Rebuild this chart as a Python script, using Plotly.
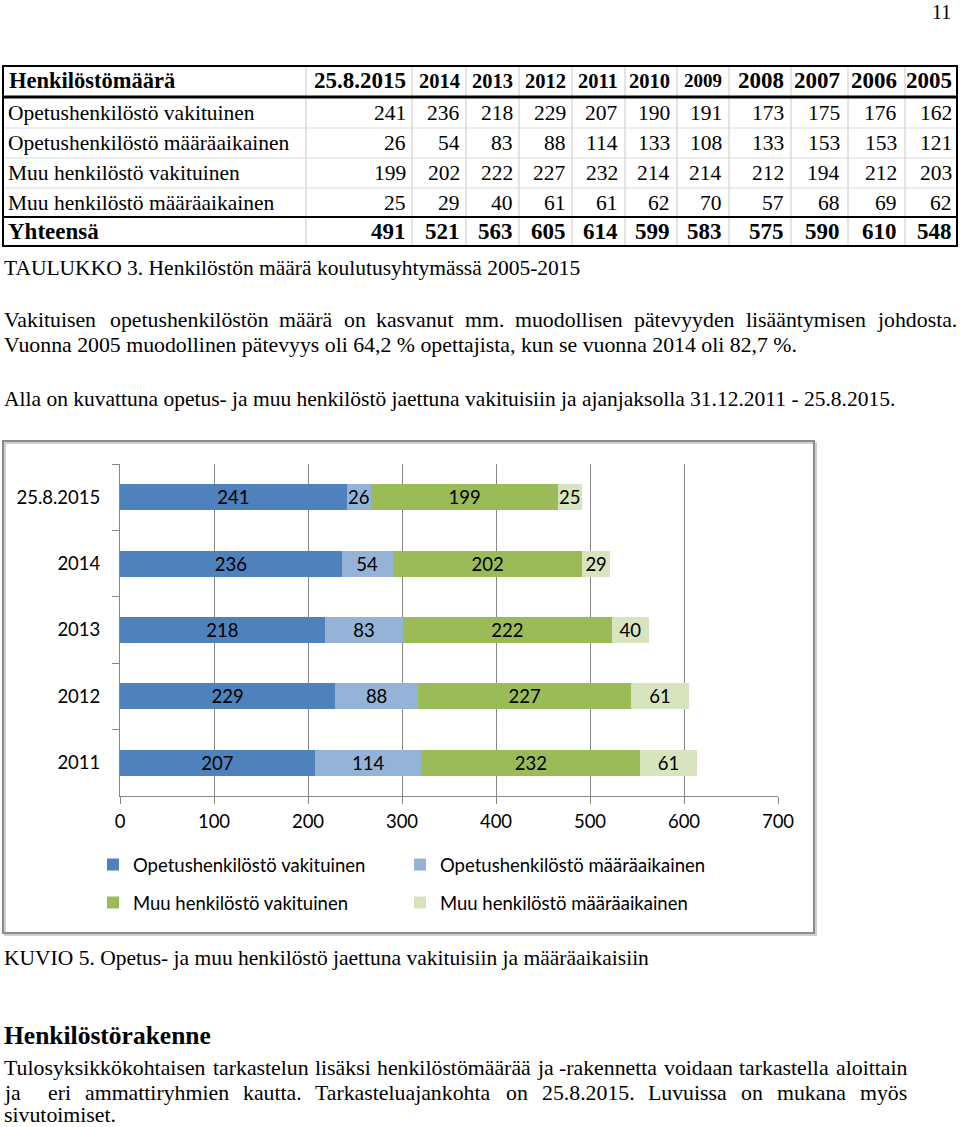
import plotly.graph_objects as go

# ---------------- data ----------------
table_cols = ["25.8.2015", "2014", "2013", "2012", "2011", "2010", "2009", "2008", "2007", "2006", "2005"]
row_labels = ["Opetushenkilöstö vakituinen", "Opetushenkilöstö määräaikainen",
              "Muu henkilöstö vakituinen", "Muu henkilöstö määräaikainen"]
opetus_vakituinen = [241, 236, 218, 229, 207, 190, 191, 173, 175, 176, 162]
opetus_maaraaikainen = [26, 54, 83, 88, 114, 133, 108, 133, 153, 153, 121]
muu_vakituinen = [199, 202, 222, 227, 232, 214, 214, 212, 194, 212, 203]
muu_maaraaikainen = [25, 29, 40, 61, 61, 62, 70, 57, 68, 69, 62]
yhteensa = [491, 521, 563, 605, 614, 599, 583, 575, 590, 610, 548]

chart_categories = table_cols[:5]
series_names = row_labels
series_values = [opetus_vakituinen[:5], opetus_maaraaikainen[:5], muu_vakituinen[:5], muu_maaraaikainen[:5]]
x_ticks = [0, 100, 200, 300, 400, 500, 600, 700]

# ---------------- styles / layout ----------------
W, H = 960, 1127
SERIF = "Liberation Serif"
SANS = "Lato"
CH_SIZE = 18.5
colors = ["#4F81BD", "#95B3D7", "#9BBB59", "#D7E4BD"]


def px(x):
    return x / W


def py(y):
    return 1 - y / H


fig = go.Figure()
for i, (name, vals) in enumerate(zip(series_names, series_values)):
    fig.add_trace(go.Bar(
        y=chart_categories, x=vals, name=name, orientation="h",
        marker=dict(color=colors[i], line=dict(width=0)),
        text=vals, textposition="inside", insidetextanchor="middle",
        constraintext="none", textangle=0,
        textfont=dict(family=SANS, size=CH_SIZE, color="#000000"),
        legend="legend" if i < 2 else "legend2",
        hoverinfo="skip",
    ))

annotations = []
shapes = []


def add_text(x, y, text, size, bold=False, anchor="left", family=SERIF, color="#000"):
    if bold:
        text = "<b>" + text + "</b>"
    annotations.append(dict(
        x=px(x), y=py(y), xref="paper", yref="paper", text=text, showarrow=False,
        xanchor=anchor, yanchor="middle", font=dict(family=family, size=size, color=color),
        borderpad=0,
    ))


TIMES = {
    'a': 444, 'b': 500, 'c': 444, 'd': 500, 'e': 444, 'f': 333, 'g': 500, 'h': 500, 'i': 278,
    'j': 278, 'k': 500, 'l': 278, 'm': 778, 'n': 500, 'o': 500, 'p': 500, 'q': 500, 'r': 333,
    's': 389, 't': 278, 'u': 500, 'v': 500, 'w': 722, 'x': 500, 'y': 500, 'z': 444,
    'A': 722, 'B': 667, 'C': 667, 'D': 722, 'E': 611, 'F': 556, 'G': 722, 'H': 722, 'I': 333,
    'J': 389, 'K': 722, 'L': 611, 'M': 889, 'N': 722, 'O': 722, 'P': 556, 'Q': 722, 'R': 667,
    'S': 556, 'T': 611, 'U': 722, 'V': 722, 'W': 944, 'X': 722, 'Y': 722, 'Z': 611,
    '.': 250, ',': 250, '-': 333, '%': 833, 'ä': 444, 'ö': 500, ' ': 250,
}


def tw(word, size):
    return sum(TIMES.get(c, 500) for c in word) / 1000 * size


def justify(line, x0, x1, y, size):
    words = line.split(" ")
    total = sum(tw(w, size) for w in words)
    gap = (x1 - x0 - total) / (len(words) - 1)
    x = x0
    for w in words:
        if w:
            add_text(x, y, w, size)
        x += tw(w, size) + gap


TXT = 21.8

# page number
add_text(952, 12, "11", 20, anchor="right")

# ---------------- table ----------------
col_bounds = [306, 412, 466, 519, 572, 625, 677, 729, 791, 848, 905]
right_edges = [407, 461, 514, 567, 619, 671, 723, 785, 841, 898, 953]
header_sizes = [23, 20.5, 20.5, 20.5, 20.5, 20.5, 19, 23, 23, 23, 23]
T_TOP, T_BOT = 66, 246
row_y = [113, 143, 173, 203]

for xb in col_bounds:
    shapes.append(dict(type="line", xref="paper", yref="paper", x0=px(xb), x1=px(xb),
                       y0=py(T_TOP), y1=py(T_BOT), line=dict(color="#c8c8c8", width=1)))
for yb in [128, 158, 188]:
    shapes.append(dict(type="line", xref="paper", yref="paper", x0=px(3), x1=px(957),
                       y0=py(yb), y1=py(yb), line=dict(color="#dcdcdc", width=1)))
shapes.append(dict(type="rect", xref="paper", yref="paper", x0=px(3), x1=px(957),
                   y0=py(T_TOP), y1=py(T_BOT), line=dict(color="#000", width=2)))
shapes.append(dict(type="line", xref="paper", yref="paper", x0=px(3), x1=px(957),
                   y0=py(97), y1=py(97), line=dict(color="#000", width=3)))
shapes.append(dict(type="line", xref="paper", yref="paper", x0=px(3), x1=px(957),
                   y0=py(217), y1=py(217), line=dict(color="#000", width=2)))

add_text(8, 81, "Henkilöstömäärä", 22.5, bold=True)
for c, r, s in zip(table_cols, right_edges, header_sizes):
    add_text(r, 81, c, s, bold=True, anchor="right")
rows = [opetus_vakituinen, opetus_maaraaikainen, muu_vakituinen, muu_maaraaikainen]
for lbl, vals, y in zip(row_labels, rows, row_y):
    add_text(7, y, lbl, 21.5)
    for v, r in zip(vals, right_edges):
        add_text(r, y, str(v), 21.5, anchor="right")
add_text(7, 231, "Yhteensä", 23, bold=True)
for v, r in zip(yhteensa, right_edges):
    add_text(r, 231, str(v), 23, bold=True, anchor="right")

# ---------------- body text ----------------
add_text(3, 268, "TAULUKKO 3. Henkilöstön määrä koulutusyhtymässä 2005-2015", 21.5)
justify("Vakituisen opetushenkilöstön määrä on kasvanut mm. muodollisen pätevyyden lisääntymisen johdosta.",
        3, 955, 320, TXT)
add_text(3, 345, "Vuonna 2005 muodollinen pätevyys oli 64,2 % opettajista, kun se vuonna 2014 oli 82,7 %.", TXT)
add_text(3, 399, "Alla on kuvattuna opetus- ja muu henkilöstö jaettuna vakituisiin ja ajanjaksolla 31.12.2011 - 25.8.2015.", 21.5)
add_text(3, 958, "KUVIO 5. Opetus- ja muu henkilöstö jaettuna vakituisiin ja määräaikaisiin", 21.5)
add_text(3, 1035, "Henkilöstörakenne", 25.5, bold=True)
justify("Tulosyksikkökohtaisen tarkastelun lisäksi henkilöstömäärää ja -rakennetta voidaan tarkastella aloittain",
        3, 906, 1068, TXT)
justify("ja  eri ammattiryhmien kautta. Tarkasteluajankohta on 25.8.2015. Luvuissa on mukana myös",
        3, 906, 1093, TXT)
add_text(3, 1115, "sivutoimiset.", TXT)

# chart frame (with a soft shadow)
shapes.append(dict(type="rect", xref="paper", yref="paper", x0=px(5), x1=px(816),
                   y0=py(443), y1=py(935), line=dict(color="#d0d0d0", width=2), layer="below"))
shapes.append(dict(type="rect", xref="paper", yref="paper", x0=px(3), x1=px(814),
                   y0=py(441), y1=py(933), line=dict(color="#8c8c8c", width=2), layer="below"))

legend_common = dict(orientation="h", xanchor="left", yanchor="middle",
                     entrywidth=262, entrywidthmode="pixels",
                     font=dict(family=SANS, size=CH_SIZE, color="#000"),
                     bgcolor="rgba(0,0,0,0)", borderwidth=0, traceorder="normal")

fig.update_layout(
    width=W, height=H,
    margin=dict(l=0, r=0, t=0, b=0, autoexpand=False),
    paper_bgcolor="white", plot_bgcolor="white",
    barmode="stack", bargap=0.61,
    showlegend=True,
    legend=dict(x=px(93), y=py(865), **legend_common),
    legend2=dict(x=px(93), y=py(903), **legend_common),
    xaxis=dict(domain=[px(120), px(778)], range=[0, 700], tickvals=x_ticks,
               showgrid=True, gridcolor="#868686", gridwidth=1,
               showline=True, linecolor="#868686", linewidth=1,
               ticks="outside", ticklen=7, tickcolor="#868686",
               zeroline=False, ticklabelstandoff=2,
               tickfont=dict(family=SANS, size=CH_SIZE, color="#000"), fixedrange=True),
    yaxis=dict(domain=[py(796), py(464)], type="category", autorange="reversed",
               categoryorder="array", categoryarray=chart_categories,
               tickson="boundaries", ticks="outside", ticklen=7, tickcolor="#868686",
               showline=True, linecolor="#868686", linewidth=1, showgrid=False,
               ticklabelstandoff=15,
               tickfont=dict(family=SANS, size=CH_SIZE, color="#000"), fixedrange=True),
    annotations=annotations,
    shapes=shapes,
)

fig.write_html("out.html",
               config={"displayModeBar": False},
               post_script="document.body.style.margin='0';document.body.style.padding='0';"
                           "document.body.style.overflow='hidden';")
